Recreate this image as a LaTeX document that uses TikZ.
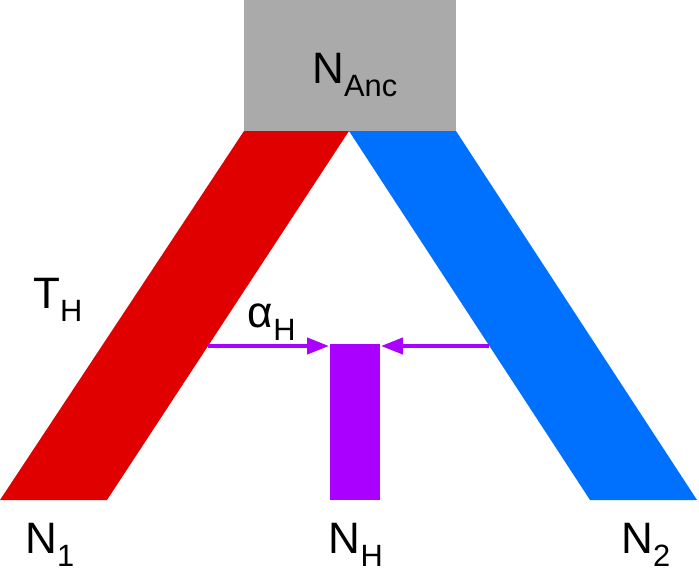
\documentclass[tikz,border=0pt]{standalone}
\usepackage{fontspec}
\setmainfont{Liberation Sans}
\usetikzlibrary{arrows.meta}
\definecolor{cred}{HTML}{E00000}
\definecolor{cblue}{HTML}{0070FF}
\definecolor{cpurp}{HTML}{AA00FF}
\definecolor{cgray}{HTML}{AAAAAA}
\begin{document}
\begin{tikzpicture}[x=1pt,y=-1pt,
  lbl/.style={font=\fontsize{44}{48}\selectfont, inner sep=0pt},
  arr/.style={cpurp, line width=4pt, -{Triangle[length=22pt,width=16pt]}}]
\useasboundingbox (0,0) rectangle (699,587);
\fill[cgray] (244,0) rectangle (456,131);
\fill[cred] (244,131) -- (349,131) -- (107,500) -- (0,500) -- cycle;
\fill[cblue] (349,131) -- (456,131) -- (697,500) -- (590,500) -- cycle;
\fill[cpurp] (330,344) rectangle (380,500);
\coordinate (a1) at (208,346);
\coordinate (b1) at (329,346);
\coordinate (a2) at (489,346);
\coordinate (b2) at (381,346);
\draw[arr] (a1) -- (b1);
\draw[arr] (a2) -- (b2);
\node[lbl] (anc) at (355,75) {N\textsubscript{Anc}};
\node[lbl] (th) at (58,300) {T\textsubscript{H}};
\node[lbl] (ah) at (272,322) {α\textsubscript{H}};
\node[lbl] (n1) at (50,545) {N\textsubscript{1}};
\node[lbl] (nh) at (356,545) {N\textsubscript{H}};
\node[lbl] (n2) at (646,545) {N\textsubscript{2}};
\end{tikzpicture}
\end{document}
